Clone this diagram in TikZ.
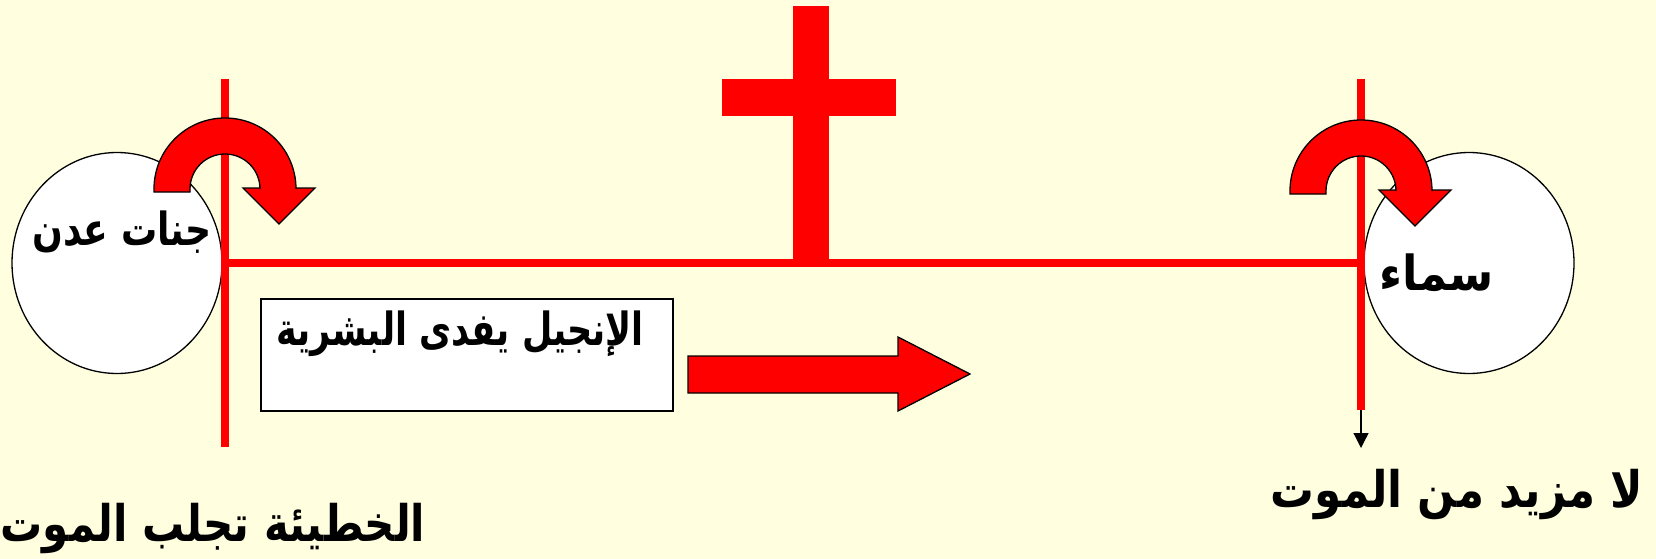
\documentclass[tikz,border=0pt]{standalone}
\usepackage{fontspec}
\usetikzlibrary{arrows.meta,shapes.geometric}
\TeXXeTstate=1
\newfontfamily\arabicfont[Script=Arabic]{DejaVu Sans}
\definecolor{bgyellow}{RGB}{255,255,224}
\definecolor{crossred}{RGB}{255,0,0}
\tikzset{
  redline/.style={draw=crossred, line width=8pt},
  bubble/.style={ellipse, draw=black, line width=1.3pt, fill=white, minimum width=210pt, minimum height=221pt, inner sep=0pt},
  redshape/.style={fill=crossred, draw=black, line width=1.3pt, line join=miter},
  artext/.style={font=\arabicfont\bfseries, text=black, inner sep=0pt},
  uturn/.pic={
    \path[redshape] (-71,3) -- (-71,0) arc[start angle=180,end angle=360,radius=71]
      -- (71,-1) -- (90,-1) -- (54,35) -- (18,-1) -- (35,-1) -- (35,0)
      arc[start angle=0,end angle=-180,radius=35] -- (-35,3) -- cycle;
  }
}
\begin{document}
\begin{tikzpicture}[x=1pt,y=-1pt]
\fill[bgyellow] (0,0) rectangle (1656,559);
\useasboundingbox (0,0) rectangle (1656,559);

% circles
\node[bubble] (eden) at (117,263) {};
\node[bubble] (heaven) at (1469,263) {};

% timeline
\coordinate (ltop) at (225,79);
\coordinate (lbot) at (225,447);
\coordinate (rtop) at (1361,79);
\coordinate (rbot) at (1361,410);
\coordinate (hl) at (229,263);
\coordinate (hr) at (1357,263);
\coordinate (death) at (1361,448);
\draw[redline] (ltop) -- (lbot);
\draw[redline] (rtop) -- (rbot);
\draw[redline] (hl) -- (hr);

% cross
\fill[crossred] (793,6) rectangle (829,263);
\fill[crossred] (722,79) rectangle (896,116);

% U-turn arrows
\pic at (225,189) {uturn};
\pic at (1361,191) {uturn};

% box
\node[draw=black, line width=1.5pt, fill=white, minimum width=412pt, minimum height=112pt, inner sep=0pt] (gospel) at (467,355) {};
\node[artext, font=\arabicfont\bfseries\fontsize{38}{40}\selectfont] (gospeltext) at (460,334) {\scalebox{0.92}[1.2]{\beginR الإنجيل يفدى البشرية\endR}};

% big arrow
\path[redshape] (688,356) -- (898,356) -- (898,337) -- (970,374) -- (898,411) -- (898,393) -- (688,393) -- cycle;

% small arrow
\draw[black, line width=1.3pt, -{Triangle[width=15pt,length=15pt]}] (rbot) -- (death);

% texts
\node[artext, font=\arabicfont\bfseries\fontsize{38}{40}\selectfont] (edentext) at (122,232) {\scalebox{0.95}[1.2]{\beginR جنات عدن\endR}};
\node[artext, font=\arabicfont\bfseries\fontsize{42}{44}\selectfont] (heaventext) at (1437,273) {\scalebox{1.07}[1.15]{\beginR سماء\endR}};
\node[artext, font=\arabicfont\bfseries\fontsize{42}{44}\selectfont] (sintext) at (213,529) {\scalebox{1.0}[1.2]{\beginR الخطيئة تجلب الموت\endR}};
\node[artext, font=\arabicfont\bfseries\fontsize{42}{44}\selectfont] (nodeath) at (1457,495) {\scalebox{1.04}[1.2]{\beginR لا مزيد من الموت\endR}};
\end{tikzpicture}
\end{document}
